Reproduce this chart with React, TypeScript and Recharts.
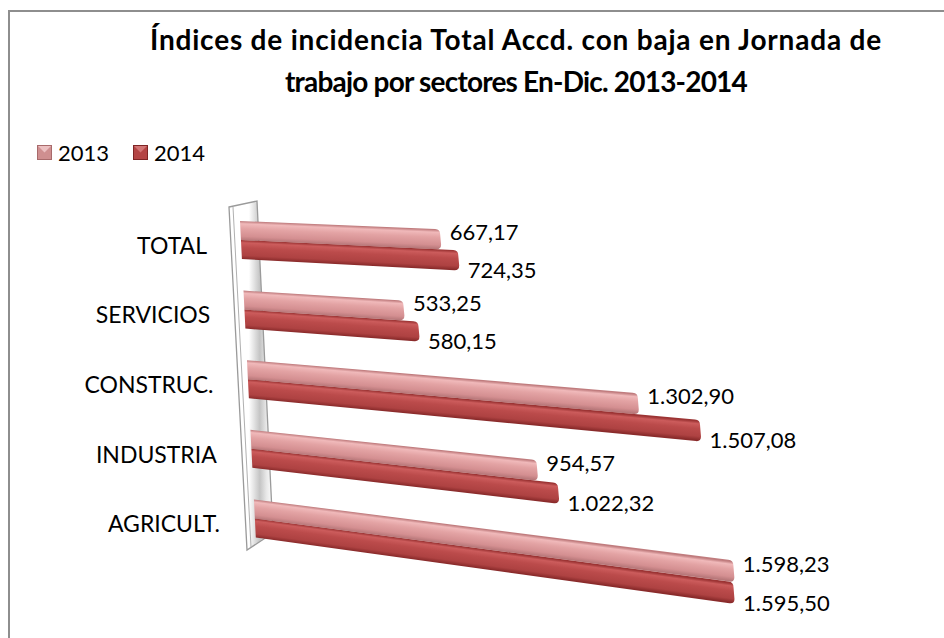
import React from 'react'
import { BarChart, Bar, XAxis, YAxis, LabelList } from 'recharts'

// ── Data ─────────────────────────────────────────────────────────────
const sectors = ['TOTAL', 'SERVICIOS', 'CONSTRUC.', 'INDUSTRIA', 'AGRICULT.']
const values2013 = [667.17, 533.25, 1302.9, 954.57, 1598.23]
const values2014 = [724.35, 580.15, 1507.08, 1022.32, 1595.5]
const seriesNames = ['2013', '2014']
const xDomain = [0, 1800]

const data = sectors.map((sector, i) => ({
  sector,
  v2013: values2013[i],
  v2014: values2014[i],
}))

// ── Look ─────────────────────────────────────────────────────────────
const FONT = 'Lato, "Open Sans", sans-serif'

const TONES = {
  light: {
    stops: ['#c07c7e', '#f0b9ba', '#e3a3a4', '#d48f91', '#b8787a'],
    legend: '#cf8f90',
    legendTop: '#ecc0c1',
    legendEdge: '#a86a6b',
  },
  dark: {
    stops: ['#9c3434', '#cc5c5c', '#bb4b4b', '#ae4242', '#8a2b2b'],
    legend: '#b44545',
    legendTop: '#d27575',
    legendEdge: '#7e2525',
  },
}

// fake 3D: bars slant more the lower they sit, base line leans right
const TOP_Y = 209
const shift = (y: number) => (y - TOP_Y) * 0.05
const slope = (y: number) => 0.041 + (y - TOP_Y) * 0.00031

const fmt = (v: number) => {
  const [i, d] = v.toFixed(2).split('.')
  return i.replace(/\B(?=(\d{3})+(?!\d))/g, '.') + ',' + d
}

function SlantBar(props: any) {
  const { x, y, width: w, height: h, index, tone } = props
  if (!w || w <= 0) return null
  const s1 = slope(y)
  const s2 = slope(y + h)
  const a = x + shift(y)
  const b = x + shift(y + h)
  const r = Math.min(5, h / 3)
  const sm = (s1 + s2) / 2
  const id = `grad-${tone}-${index}`
  const d = [
    `M${a},${y}`,
    `L${a + w - r},${y + s1 * (w - r)}`,
    `Q${a + w},${y + s1 * w} ${a + w},${y + s1 * w + r}`,
    `L${b + w},${y + h + s2 * w - r}`,
    `Q${b + w},${y + h + s2 * w} ${b + w - r},${y + h + s2 * (w - r)}`,
    `L${b},${y + h}`,
    'Z',
  ].join(' ')
  const stops = TONES[tone as 'light' | 'dark'].stops
  return (
    <g>
      <defs>
        <linearGradient
          id={id}
          gradientUnits="userSpaceOnUse"
          x1={a}
          y1={y}
          x2={a}
          y2={y + h}
          gradientTransform={`matrix(1,${sm},0,1,0,${-sm * a})`}
        >
          <stop offset="0" stopColor={stops[0]} />
          <stop offset="0.14" stopColor={stops[1]} />
          <stop offset="0.4" stopColor={stops[2]} />
          <stop offset="0.8" stopColor={stops[3]} />
          <stop offset="1" stopColor={stops[4]} />
        </linearGradient>
      </defs>
      <path d={d} fill={`url(#${id})`} />
    </g>
  )
}

// 2013 labels sit a bit above the bar end, 2014 a bit below
function BarLabel(props: any) {
  const { x, y, width: w, height: h, value, lift } = props
  const cy = y + h / 2
  const ex = x + shift(cy) + w + 9
  const ey = cy + slope(cy) * w + lift
  return (
    <text x={ex} y={ey} dominantBaseline="central" fontFamily={FONT} fontSize={22} fill="#000">
      {fmt(value)}
    </text>
  )
}

function SectorTick(props: any) {
  const { x, y, payload } = props
  return (
    <text
      x={x - 25 + (y - 228) * 0.047}
      y={y + 5}
      textAnchor="end"
      dominantBaseline="central"
      fontFamily={FONT}
      fontSize={23}
      fill="#000"
    >
      {payload.value}
    </text>
  )
}

function LegendMark({ tone }: { tone: 'light' | 'dark' }) {
  const t = TONES[tone]
  return (
    <svg width={15} height={15} style={{ display: 'block' }}>
      <rect x={0.5} y={0.5} width={14} height={14} fill={t.legend} stroke={t.legendEdge} />
      <polygon points="1,1 14,1 7.5,7.5" fill={t.legendTop} />
    </svg>
  )
}

// back wall of the 3D plot
function Wall() {
  return (
    <svg width={300} height={560} style={{ position: 'absolute', left: 0, top: 0 }}>
      <defs>
        <linearGradient id="wallGrad" x1="0" y1="0" x2="1" y2="0">
          <stop offset="0" stopColor="#ffffff" />
          <stop offset="0.45" stopColor="#ffffff" />
          <stop offset="0.7" stopColor="#c4c4c4" />
          <stop offset="0.85" stopColor="#e8e8e8" />
          <stop offset="1" stopColor="#ffffff" />
        </linearGradient>
      </defs>
      <polygon
        points="219,195 247,189 263,521 237,538"
        fill="url(#wallGrad)"
        stroke="#9a9a9a"
        strokeWidth={1.3}
      />
      <line x1={223} y1={195} x2={241} y2={535} stroke="#b0b0b0" strokeWidth={1} />
    </svg>
  )
}

export default function App() {
  return (
    <div
      style={{
        position: 'absolute',
        left: 8,
        top: 10,
        width: 936,
        height: 628,
        borderTop: '2px solid #8e8e8e',
        borderLeft: '2px solid #8e8e8e',
        boxSizing: 'border-box',
        background: '#fff',
        fontFamily: FONT,
      }}
    >
      <div
        style={{
          position: 'absolute',
          left: 106,
          top: 6,
          width: 800,
          textAlign: 'center',
          fontWeight: 700,
          fontSize: 28,
          lineHeight: '42px',
          color: '#000',
          whiteSpace: 'nowrap',
        }}
      >
        <div style={{ letterSpacing: 0.8 }}>Índices de incidencia Total Accd. con baja en Jornada de</div>
        <div style={{ letterSpacing: -0.8 }}>trabajo por sectores En-Dic. 2013-2014</div>
      </div>

      <div
        style={{
          position: 'absolute',
          left: 27,
          top: 126,
          height: 28,
          display: 'flex',
          alignItems: 'center',
          fontSize: 22,
          color: '#000',
        }}
      >
        <LegendMark tone="light" />
        <span style={{ marginLeft: 6, marginRight: 24 }}>{seriesNames[0]}</span>
        <LegendMark tone="dark" />
        <span style={{ marginLeft: 6 }}>{seriesNames[1]}</span>
      </div>

      <Wall />

      <div style={{ position: 'absolute', left: 0, top: 0 }}>
        <BarChart
          width={924}
          height={616}
          data={data}
          layout="vertical"
          barSize={19}
          barGap={0}
          margin={{ top: 193, right: 154, bottom: 75, left: 0 }}
        >
          <XAxis type="number" domain={xDomain} hide />
          <YAxis
            type="category"
            dataKey="sector"
            width={230}
            axisLine={false}
            tickLine={false}
            tick={(p: any) => <SectorTick {...p} />}
          />
          <Bar
            dataKey="v2013"
            name={seriesNames[0]}
            isAnimationActive={false}
            shape={(p: any) => <SlantBar {...p} tone="light" />}
          >
            <LabelList dataKey="v2013" content={(p: any) => <BarLabel {...p} lift={-8} />} />
          </Bar>
          <Bar
            dataKey="v2014"
            name={seriesNames[1]}
            isAnimationActive={false}
            shape={(p: any) => <SlantBar {...p} tone="dark" />}
          >
            <LabelList dataKey="v2014" content={(p: any) => <BarLabel {...p} lift={9} />} />
          </Bar>
        </BarChart>
      </div>
    </div>
  )
}
